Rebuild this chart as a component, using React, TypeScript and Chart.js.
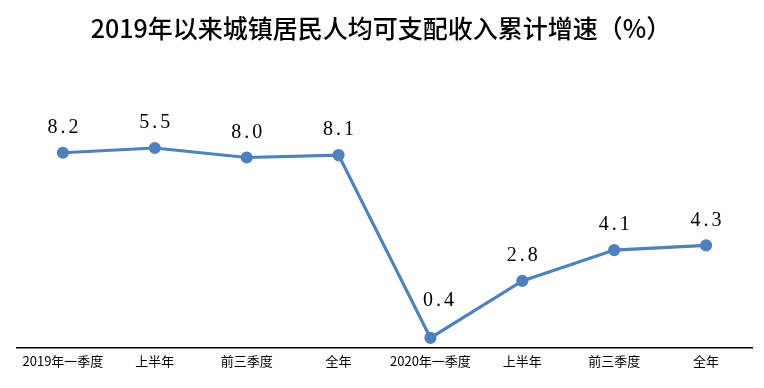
import React, { useEffect, useRef } from "react";
import { Chart, registerables } from "chart.js";

Chart.register(...registerables);

const titleText = "2019年以来城镇居民人均可支配收入累计增速（%）";
const categories = ["2019年一季度", "上半年", "前三季度", "全年", "2020年一季度", "上半年", "前三季度", "全年"];
const plottedValues = [8.2, 8.4, 8.0, 8.1, 0.4, 2.8, 4.1, 4.3];
const valueLabels = ["8.2", "5.5", "8.0", "8.1", "0.4", "2.8", "4.1", "4.3"];

const lineColor = "#4f81bd";

const titlePlugin = {
  id: "customTitle",
  afterDraw(chart: any) {
    const ctx = chart.ctx;
    ctx.save();
    ctx.font = "500 25px 'Noto Sans CJK SC'";
    ctx.fillStyle = "#000";
    ctx.textAlign = "center";
    ctx.textBaseline = "middle";
    ctx.fillText(titleText, 381, 28);
    ctx.restore();
  },
};

const labelPlugin = {
  id: "valueLabels",
  afterDatasetsDraw(chart: any) {
    const ctx = chart.ctx;
    const meta = chart.getDatasetMeta(0);
    ctx.save();
    ctx.font = "20px 'Liberation Serif'";
    ctx.fillStyle = "#000";
    ctx.textAlign = "center";
    ctx.textBaseline = "middle";
    const adv = 10.5;
    meta.data.forEach((pt: any, i: number) => {
      const text = valueLabels[i];
      const dx = i === 4 ? 8 : 0;
      const dy = i === 4 ? 37 : 25;
      const cx = pt.x + dx;
      const cy = pt.y - dy;
      const start = cx - (text.length * adv) / 2 + adv / 2;
      for (let k = 0; k < text.length; k++) {
        ctx.fillText(text[k], start + k * adv, cy);
      }
    });
    ctx.restore();
  },
};

export default function App() {
  const ref = useRef<HTMLCanvasElement>(null);
  useEffect(() => {
    document.body.style.margin = "0";
    const chart = new Chart(ref.current!, {
      type: "line",
      data: {
        labels: categories,
        datasets: [
          {
            data: plottedValues,
            borderColor: lineColor,
            backgroundColor: lineColor,
            borderWidth: 3.2,
            pointRadius: 4.5,
            pointBackgroundColor: lineColor,
            pointBorderColor: lineColor,
            tension: 0,
          },
        ],
      },
      options: {
        responsive: false,
        animation: false,
        layout: { padding: { left: 17, right: 12, top: 110, bottom: 13 } },
        plugins: { legend: { display: false }, tooltip: { enabled: false }, title: { display: false } },
        scales: {
          x: {
            offset: true,
            grid: { display: false, drawTicks: false },
            border: { display: true, color: "#000", width: 1.5 },
            ticks: { color: "#000", font: { size: 13, family: "'Noto Sans CJK SC'" }, padding: 6, maxRotation: 0, autoSkip: false },
          },
          y: { display: false, min: 0, max: 10 },
        },
      },
      plugins: [titlePlugin, labelPlugin],
    });
    return () => chart.destroy();
  }, []);
  return (
    <div style={{ width: 764, height: 388, background: "#fff" }}>
      <canvas ref={ref} width={764} height={388} style={{ display: "block" }} />
    </div>
  );
}
